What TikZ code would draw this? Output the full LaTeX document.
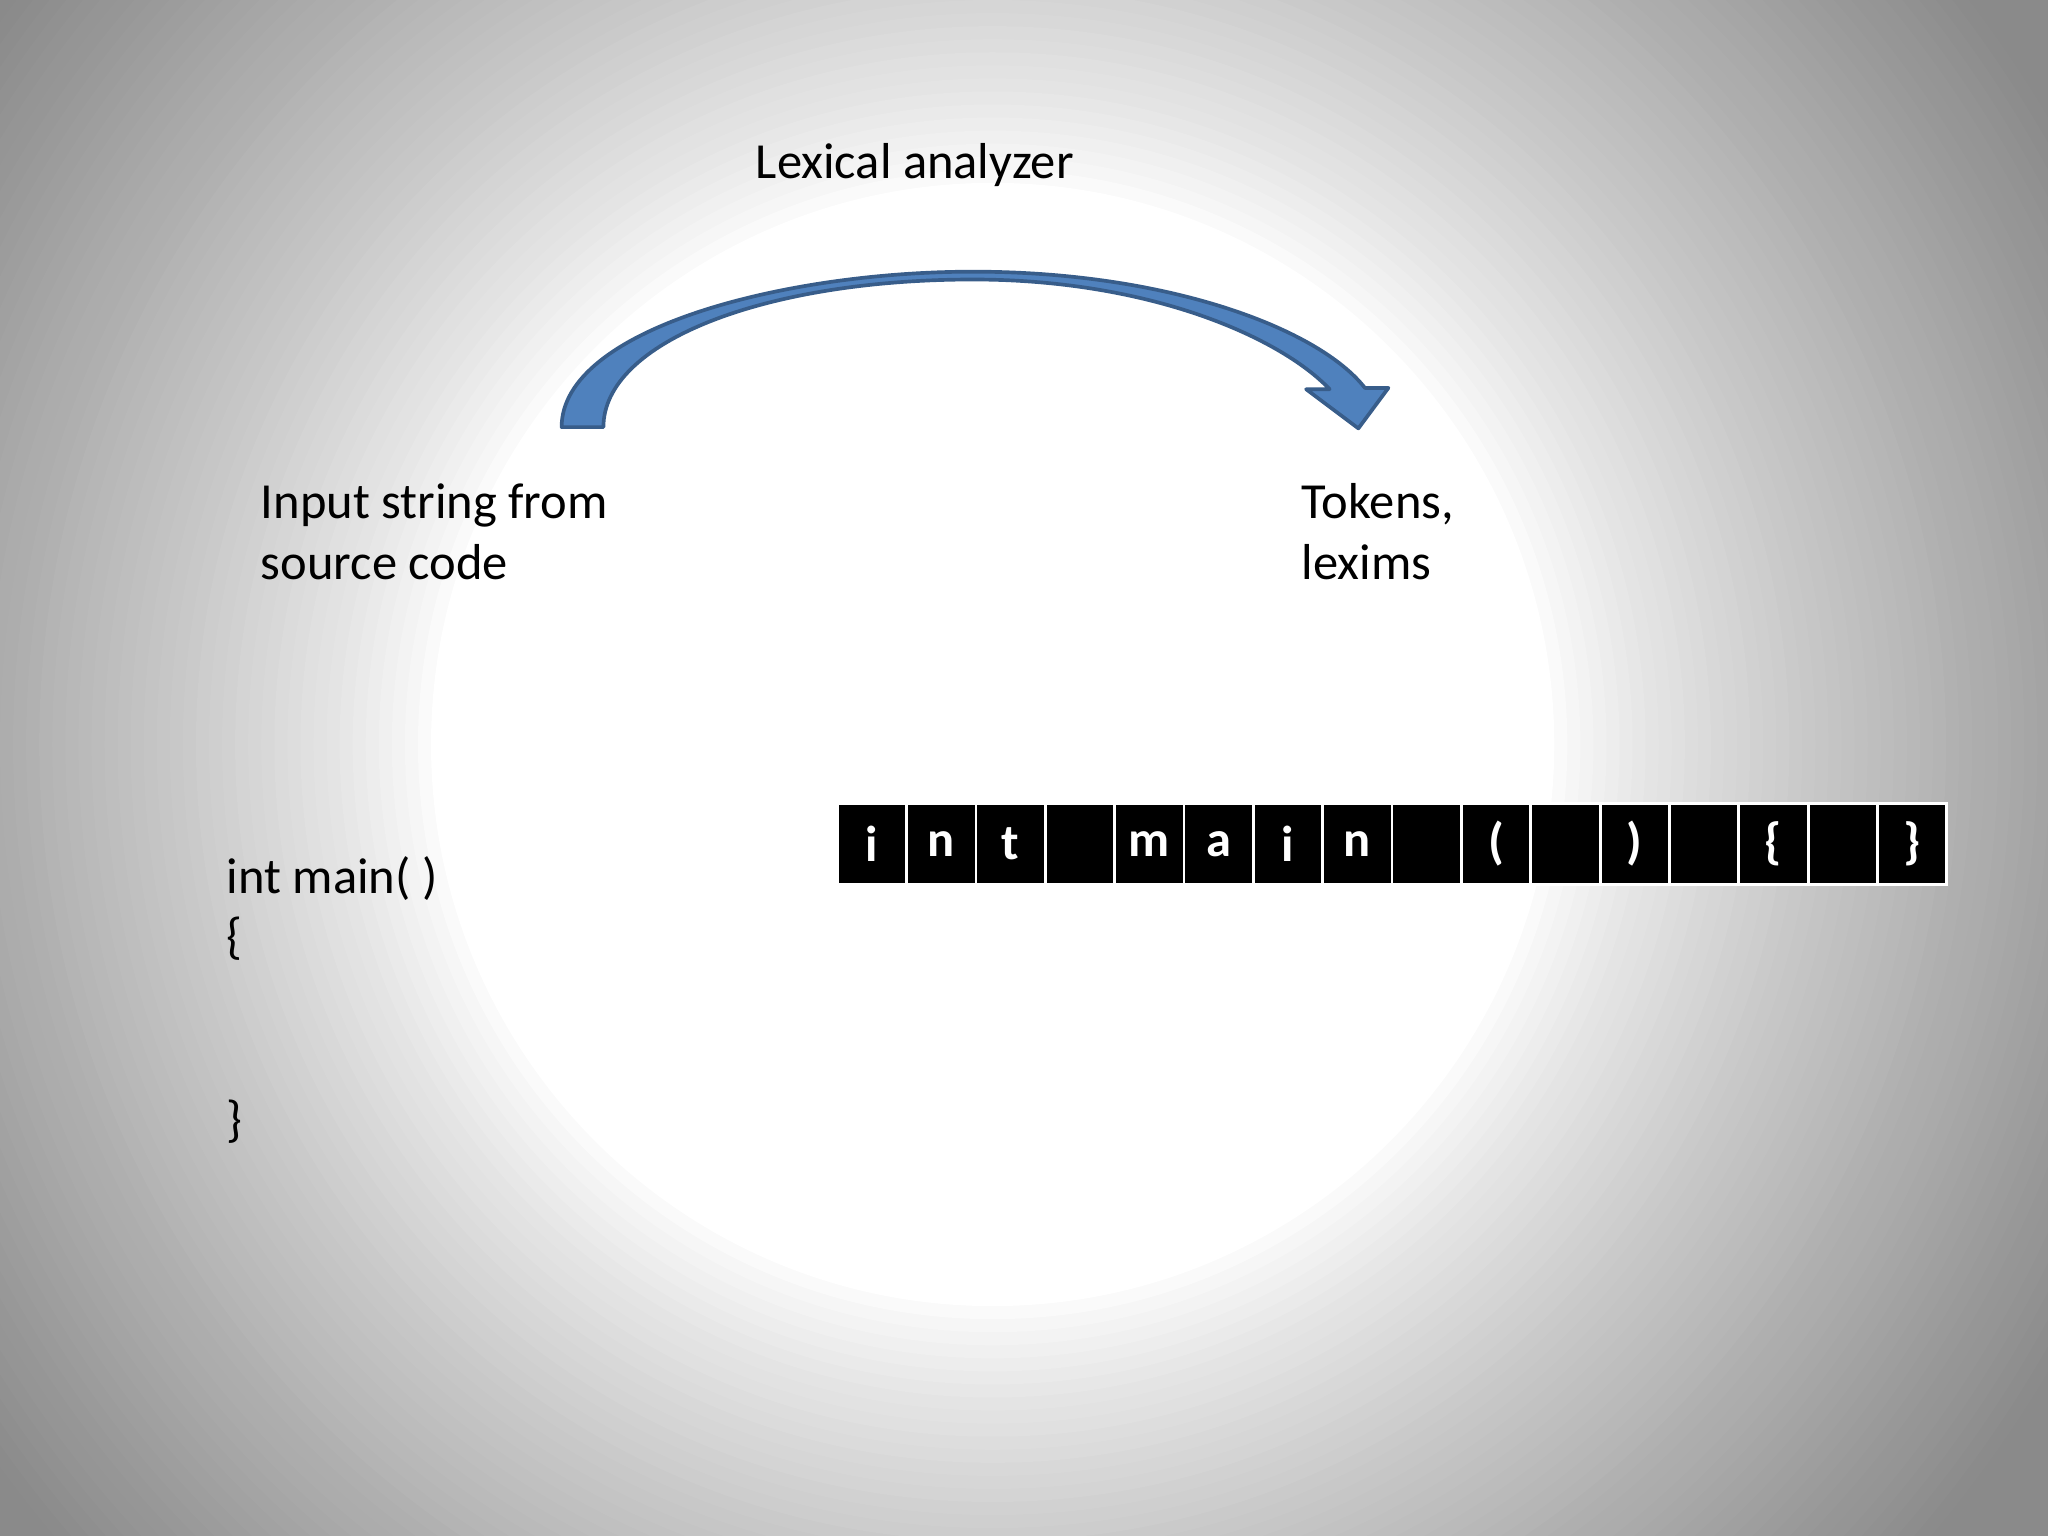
\documentclass[tikz,border=0pt]{standalone}
\usepackage{fontspec}
\setmainfont{Carlito}
\definecolor{arrfill}{HTML}{4F81BD}
\definecolor{arrline}{HTML}{385D8A}
\tikzset{
  lbl/.style={anchor=base west, inner sep=0, font=\fontsize{11}{13.5}\selectfont},
  cell/.style={minimum width=0.53cm, minimum height=0.62cm, inner sep=0, fill=black, draw=white, line width=0.6pt, text=white, font=\fontsize{11}{13}\selectfont\bfseries}
}
\begin{document}
\begin{tikzpicture}[x=0.01cm,y=-0.01cm]
\useasboundingbox (0,0) rectangle (1568,1176);
\begin{scope}
\clip (0,0) rectangle (1568,1176);
\fill[black!46] (0,0) rectangle (1568,1176);
\foreach \k in {0,...,52}{
  \pgfmathsetmacro{\r}{950-\k*10}
  \pgfmathsetmacro{\c}{46*((\r-430)/520)^0.8}
  \fill[black!\c] (760,570) circle (\r);
}
\end{scope}
% curved arrow
\path[fill=arrfill, draw=arrline, line width=0.8pt, line join=round]
 (430,327) .. controls (430,252) and (600,208) .. (745,208)
 .. controls (895,208) and (1010,252) .. (1045,297)
 -- (1063,297) -- (1040,328) -- (1000,298) -- (1018,298)
 .. controls (980,258) and (880,214) .. (745,214)
 .. controls (585,214) and (462,262) .. (462,327) -- cycle;
\node[lbl] (title) at (578,137) {Lexical analyzer};
\node[lbl] (inp1) at (199,397) {Input string from};
\node[lbl] (inp2) at (199,444) {source code};
\node[lbl] (tok1) at (996,397) {Tokens,};
\node[lbl] (tok2) at (996,444) {lexims};
\node[lbl] (l1) at (173,684) {int main( )};
\node[lbl] (l2) at (173,730) {\{};
\node[lbl] (l3) at (173,870) {\}};
% token strip
\foreach \i/\t in {1/i,2/n,3/t,4/{},5/m,6/a,7/i,8/n,9/{},10/(,11/{},12/),13/{},14/\{,15/{},16/\}}{
  \node[cell] (c\i) at ({641+26.55+(\i-1)*53.1},646) {\t};
}
\end{tikzpicture}
\end{document}
